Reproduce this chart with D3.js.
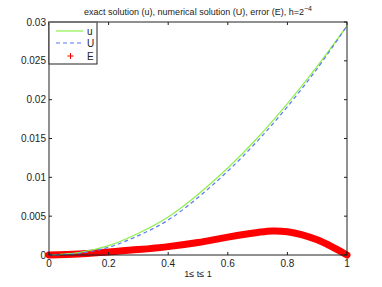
<!DOCTYPE html>
<html lang="en">
<head>
  <meta charset="UTF-8">
  <title>exact vs numerical solution</title>
  <style>
    body { margin: 0; background: #fff; }
    text { font-family: "Liberation Sans", Arial, sans-serif; fill: #222; }
  </style>
</head>
<body>
  <div id="chart"></div>
  <script src="https://d3js.org/d3.v7.min.js"></script>
  <script>
    const width = 382
    const height = 287
    const margin = { top: 22, right: 35, bottom: 32, left: 49 }

    // values
    const t = [0, 0.1, 0.2, 0.3, 0.4, 0.5, 0.6, 0.7, 0.8, 0.9, 1]
    const uExact = [0, 0.0003, 0.0012, 0.0028, 0.0049, 0.0078, 0.0112, 0.0151, 0.0195, 0.0243, 0.0295]
    const uNum = [0, 0.0002, 0.0010, 0.0025, 0.0045, 0.0074, 0.0108, 0.0147, 0.0191, 0.0240, 0.0295]
    const tErr = [0, 0.1, 0.2, 0.3, 0.4, 0.5, 0.6, 0.7, 0.75, 0.8, 0.85, 0.9, 0.95, 1]
    const err = [0, 0.00012, 0.0004, 0.0007, 0.00108, 0.0016, 0.0023, 0.0029, 0.0031, 0.0030, 0.0026, 0.00195, 0.00105, 0]
    const xTicks = [0, 0.2, 0.4, 0.6, 0.8, 1]
    const yTicks = [0, 0.005, 0.01, 0.015, 0.02, 0.025, 0.03]
    const legendLabels = ['u', 'U', 'E']

    const svg = d3.select('#chart').append('svg')
      .attr('width', width)
      .attr('height', height)

    const x = d3.scaleLinear().domain([0, 1]).range([margin.left, width - margin.right])
    const y = d3.scaleLinear().domain([0, 0.03]).range([height - margin.bottom, margin.top])

    const line = (xs) => d3.line()
      .x((d, i) => x(xs[i]))
      .y(d => y(d))
      .curve(d3.curveCatmullRom.alpha(0.5))

    // curves
    const plot = svg.append('g')
    plot.append('path')
      .datum(err)
      .attr('d', line(tErr))
      .attr('fill', 'none')
      .attr('stroke', '#ff0000')
      .attr('stroke-width', 7)
      .attr('stroke-linecap', 'round')

    plot.append('path')
      .datum(uExact)
      .attr('d', line(t))
      .attr('fill', 'none')
      .attr('stroke', '#8cf04c')
      .attr('stroke-width', 1.2)

    plot.append('path')
      .datum(uNum)
      .attr('d', line(t))
      .attr('fill', 'none')
      .attr('stroke', '#5a78f5')
      .attr('stroke-width', 1.2)
      .attr('stroke-dasharray', '4 3')

    // axes box
    svg.append('rect')
      .attr('x', x(0)).attr('y', y(0.03))
      .attr('width', x(1) - x(0)).attr('height', y(0) - y(0.03))
      .attr('fill', 'none')
      .attr('stroke', '#222')
      .attr('stroke-width', 1)

    // ticks pointing inward, on all four sides
    const tickLen = 3
    const ax = svg.append('g').attr('stroke', '#222')
    xTicks.forEach(v => {
      ax.append('line').attr('x1', x(v)).attr('x2', x(v)).attr('y1', y(0)).attr('y2', y(0) - tickLen)
      ax.append('line').attr('x1', x(v)).attr('x2', x(v)).attr('y1', y(0.03)).attr('y2', y(0.03) + tickLen)
    })
    yTicks.forEach(v => {
      ax.append('line').attr('x1', x(0)).attr('x2', x(0) + tickLen).attr('y1', y(v)).attr('y2', y(v))
      ax.append('line').attr('x1', x(1)).attr('x2', x(1) - tickLen).attr('y1', y(v)).attr('y2', y(v))
    })

    svg.append('g').selectAll('text')
      .data(xTicks)
      .join('text')
      .attr('x', d => x(d))
      .attr('y', y(0) + 12)
      .attr('text-anchor', 'middle')
      .attr('font-size', 10)
      .text(d => d3.format('~g')(d))

    svg.append('g').selectAll('text')
      .data(yTicks)
      .join('text')
      .attr('x', x(0) - 3)
      .attr('y', d => y(d) + 3.5)
      .attr('text-anchor', 'end')
      .attr('font-size', 10)
      .text(d => d3.format('~g')(d))

    // title
    const title = svg.append('text')
      .attr('x', (x(0) + x(1)) / 2)
      .attr('y', 15)
      .attr('text-anchor', 'middle')
      .attr('font-size', 9)
    title.append('tspan').text('exact solution (u), numerical solution (U), error (E), h=2')
    title.append('tspan').attr('dy', -4).attr('font-size', 7).text('−4')

    // x label
    svg.append('text')
      .attr('x', (x(0) + x(1)) / 2)
      .attr('y', 277)
      .attr('text-anchor', 'middle')
      .attr('font-size', 9)
      .text('1≤ t≤ 1')

    // legend
    const lg = svg.append('g')
    lg.append('rect')
      .attr('x', x(0)).attr('y', y(0.03))
      .attr('width', 48).attr('height', 42)
      .attr('fill', '#fff')
      .attr('stroke', '#222')
    lg.append('line').attr('x1', x(0)).attr('x2', x(0) + 48).attr('y1', y(0.03)).attr('y2', y(0.03))
      .attr('stroke', '#777').attr('stroke-width', 2)

    const rows = [31, 43, 56]
    lg.append('line').attr('x1', 56).attr('x2', 83).attr('y1', rows[0]).attr('y2', rows[0])
      .attr('stroke', '#8cf04c').attr('stroke-width', 1.2)
    lg.append('line').attr('x1', 56).attr('x2', 83).attr('y1', rows[1]).attr('y2', rows[1])
      .attr('stroke', '#5a78f5').attr('stroke-width', 1.2).attr('stroke-dasharray', '4 3')
    lg.append('path')
      .attr('d', `M70.5,${rows[2] - 3}v6M67.5,${rows[2]}h6`)
      .attr('stroke', '#ff0000').attr('stroke-width', 1)

    lg.selectAll('text.lab')
      .data(legendLabels)
      .join('text')
      .attr('class', 'lab')
      .attr('x', 87)
      .attr('y', (d, i) => rows[i] + 3.5)
      .attr('font-size', 10)
      .text(d => d)
  </script>
</body>
</html>
